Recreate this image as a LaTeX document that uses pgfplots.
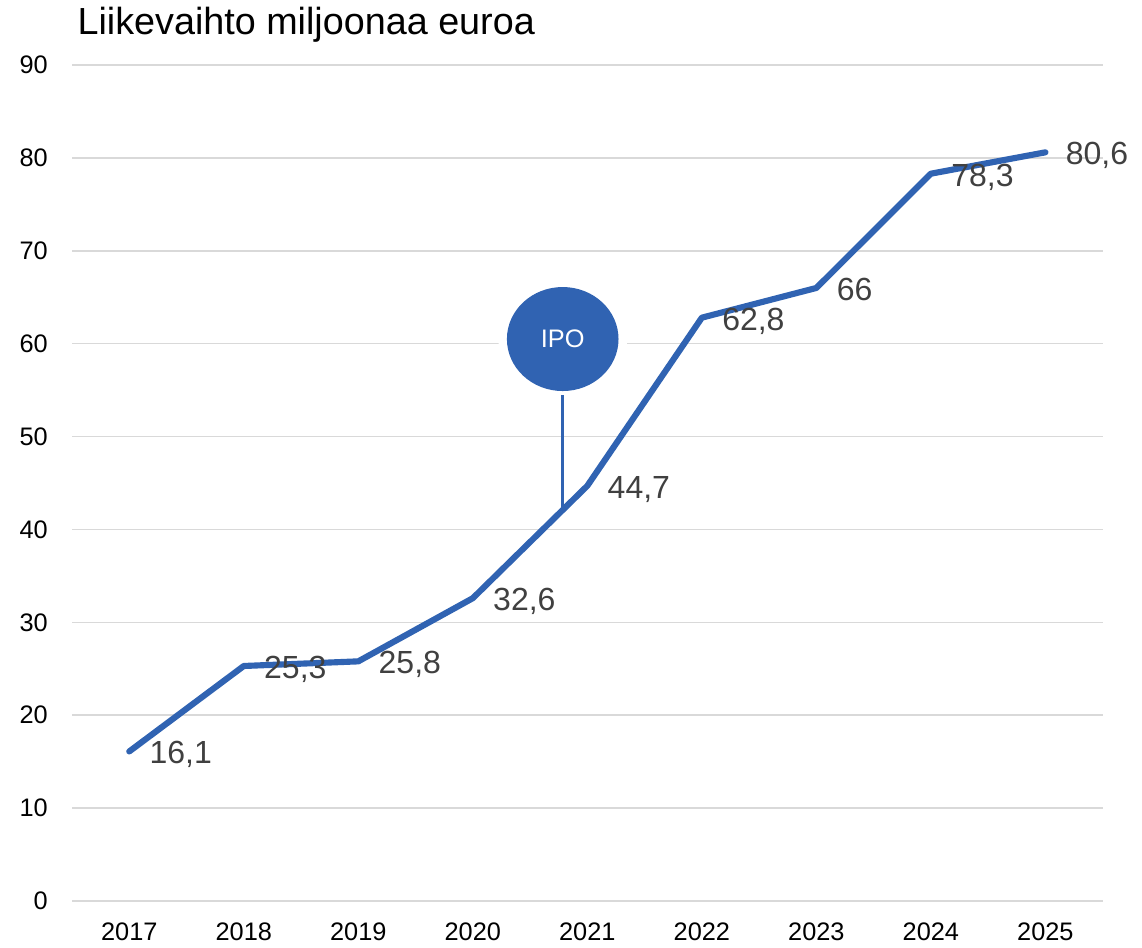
\documentclass[border=0pt]{standalone}
\usepackage{pgfplots}
\pgfplotsset{compat=1.18}
\usetikzlibrary{shapes.geometric}
\usepackage{fontspec}
\setmainfont{Liberation Sans}
\definecolor{lineblue}{RGB}{48,99,178}
\definecolor{gridgrey}{RGB}{217,217,217}
\definecolor{labelgrey}{RGB}{64,64,64}
\begin{document}
\begin{tikzpicture}
\begin{axis}[
  at={(54pt,34.5pt)}, anchor=south west,
  scale only axis,
  width=773pt, height=627pt,
  xmin=-0.5, xmax=8.5,
  ymin=0, ymax=90,
  xtick={0,1,2,3,4,5,6,7,8},
  xticklabels={2017,2018,2019,2020,2021,2022,2023,2024,2025},
  ytick={0,10,...,90},
  axis line style={draw=none},
  major tick length=0pt,
  ymajorgrids=true,
  grid style={gridgrey, line width=1.1pt},
  /pgf/number format/assume math mode=true,
  xticklabel style={font=\fontsize{19}{19}\selectfont, anchor=north, inner sep=0pt, yshift=-16.5pt},
  yticklabel style={font=\fontsize{19}{19}\selectfont, anchor=east, inner sep=0pt, xshift=-18pt},
  clip=false,
]
% IPO bubble
\node[ellipse, fill=white, inner sep=0pt, minimum width=96.5pt, minimum height=90.8pt] at (axis cs:3.785,60.5) {};
\node[ellipse, fill=lineblue, inner sep=0pt, minimum width=83.7pt, minimum height=78pt, text=white, font=\fontsize{19}{19}\selectfont] at (axis cs:3.785,60.5) {IPO};
\addplot[lineblue, line width=2.5pt, forget plot] coordinates {(3.785,41.9) (3.785,54.47)};
% main series
\addplot[lineblue, line width=4.6pt, line cap=round, line join=round,
  nodes near coords, point meta=explicit symbolic,
  every node near coord/.append style={anchor=base west, inner sep=0pt, xshift=13pt, yshift=-9.3pt, text=labelgrey, font=\fontsize{24}{24}\selectfont}]
  table[meta=label] {
x y label
0 16.1 {16,1}
1 25.3 {25,3}
2 25.8 {25,8}
3 32.6 {32,6}
4 44.7 {44,7}
5 62.8 {62,8}
6 66 {66}
7 78.3 {78,3}
8 80.6 {80,6}
};
\end{axis}
\node[anchor=base west, inner sep=0pt, font=\fontsize{28.3}{28.3}\selectfont] at (58pt,684.5pt) {Liikevaihto miljoonaa euroa};
\pgfresetboundingbox
\useasboundingbox (0,0) rectangle (856.5pt,710.25pt);
\end{tikzpicture}
\end{document}
